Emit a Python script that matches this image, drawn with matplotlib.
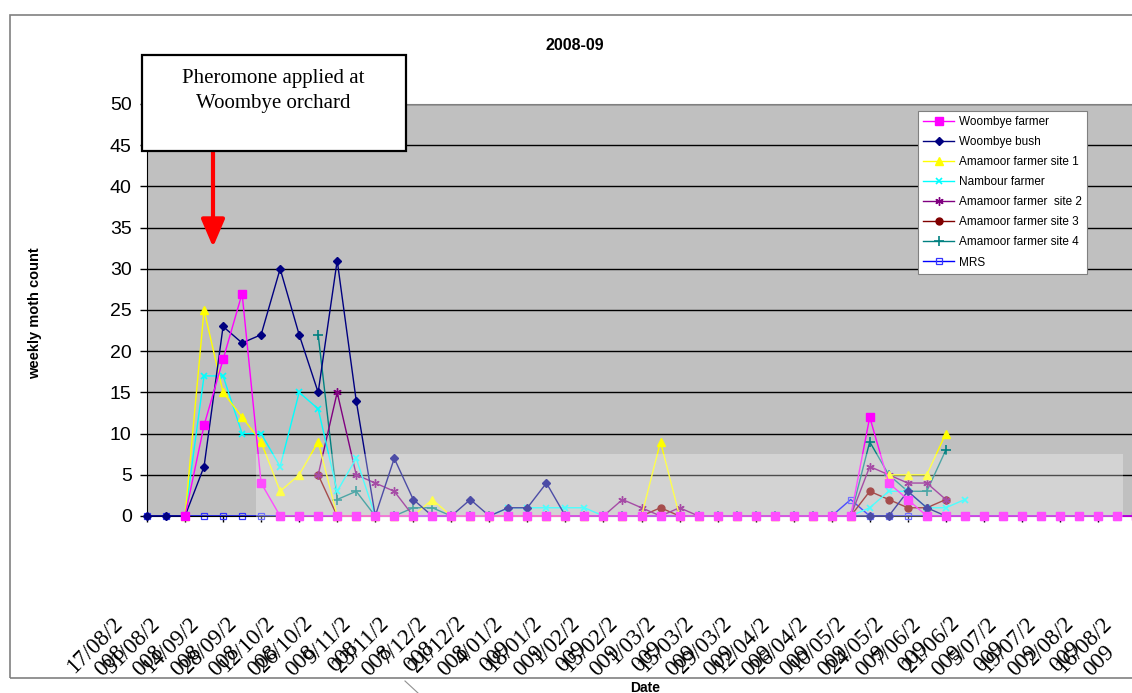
import numpy as np
import matplotlib
matplotlib.use("Agg")
import matplotlib.pyplot as plt
from matplotlib.patches import Rectangle
from matplotlib.lines import Line2D
from matplotlib.transforms import ScaledTranslation, blended_transform_factory

nan = np.nan

# ---------------- data ----------------
tick_labels = ["17/08/2008", "31/08/2008", "14/09/2008", "28/09/2008", "12/10/2008",
               "26/10/2008", "9/11/2008", "23/11/2008", "7/12/2008", "21/12/2008",
               "4/01/2009", "18/01/2009", "1/02/2009", "15/02/2009", "1/03/2009",
               "15/03/2009", "29/03/2009", "12/04/2009", "26/04/2009", "10/05/2009",
               "24/05/2009", "7/06/2009", "21/06/2009", "5/07/2009", "19/07/2009",
               "2/08/2009", "16/08/2009"]

woombye_farmer = [nan, nan, 0, 11, 19, 27, 4, 0, 0, 0,
                  0, 0, 0, 0, 0, 0, 0, 0, 0, 0,
                  0, 0, 0, 0, 0, 0, 0, 0, 0, 0,
                  0, 0, 0, 0, 0, 0, 0, 0, 12, 4,
                  2, 0, 0, 0, 0, 0, 0, 0, 0, 0,
                  0, 0, 0]
woombye_bush = [0, 0, 0, 6, 23, 21, 22, 30, 22, 15,
                31, 14, 0, 7, 2, 0, 0, 2, 0, 1,
                1, 4, 0, 0, 0, 0, 0, 0, 0, 0,
                0, 0, 0, 0, 0, 0, 0, 0, 0, 0,
                3, 1, 0, 0, 0, 0, 0, 0, 0, 0,
                0, 0, 0]
amamoor_site1 = [nan, nan, 0, 25, 15, 12, 9, 3, 5, 9,
                 0, 0, 0, 0, 0, 2, 0, 0, 0, 0,
                 0, 0, 0, 0, 0, 0, 0, 9, 0, 0,
                 0, 0, 0, 0, 0, 0, 0, 0, nan, 5,
                 5, 5, 10, nan, nan, nan, nan, nan, nan, nan,
                 nan, nan, nan]
nambour_farmer = [nan, nan, 0, 17, 17, 10, 10, 6, 15, 13,
                  3, 7, 0, 0, 0, 0, 0, 0, 0, 1,
                  1, 1, 1, 1, 0, 0, 0, 0, 0, 0,
                  0, 0, 0, 0, 0, 0, 0, 0, 1, 3,
                  3, 1, 1, 2, nan, nan, nan, nan, nan, nan,
                  nan, nan, nan]
amamoor_site2 = [nan, nan, nan, nan, nan, nan, nan, nan, nan, 5,
                 15, 5, 4, 3, 0, 0, 0, 0, 0, 0,
                 0, 0, 0, 0, 0, 2, 1, 0, 1, 0,
                 0, 0, 0, 0, 0, 0, 0, 0, 6, 5,
                 4, 4, 2, nan, nan, nan, nan, nan, nan, nan,
                 nan, nan, nan]
amamoor_site3 = [nan, nan, nan, nan, nan, nan, nan, nan, nan, 5,
                 0, 0, 0, 0, 0, 0, 0, 0, 0, 0,
                 0, 0, 0, 0, 0, 0, 0, 1, 0, 0,
                 0, 0, 0, 0, 0, 0, 0, 0, 3, 2,
                 1, 1, 2, nan, nan, nan, nan, nan, nan, nan,
                 nan, nan, nan]
amamoor_site4 = [nan, nan, nan, nan, nan, nan, nan, nan, nan, 22,
                 2, 3, 0, 0, 1, 1, 0, 0, 0, 0,
                 0, 0, 0, 0, 0, 0, 0, 0, 0, 0,
                 0, 0, 0, 0, 0, 0, 0, 0, 9, 5,
                 3, 3, 8, nan, nan, nan, nan, nan, nan, nan,
                 nan, nan, nan]
mrs = [0, 0, 0, 0, 0, 0, 0, 0, 0, 0,
       0, 0, 0, 0, 0, 0, 0, 0, 0, 0,
       0, 0, 0, 0, 0, 0, 0, 0, 0, 0,
       0, 0, 0, 0, 0, 0, 0, 2, 0, 0,
       0, 0, 0, 0, 0, 0, 0, 0, 0, 0,
       0, 0, 0]

# ---------------- figure ----------------
W, H = 1132, 693
fig = plt.figure(figsize=(W / 100, H / 100), dpi=100)
fig.patch.set_facecolor("white")


def fx(px):
    return px / W


def fy(py):
    return 1 - py / H


ax_left, ax_right, ax_top, ax_bot = 147, 1136, 104, 516
ax = fig.add_axes([fx(ax_left), fy(ax_bot), fx(ax_right - ax_left), (ax_bot - ax_top) / H])
ax.set_facecolor("#C0C0C0")

x = np.arange(len(woombye_farmer))

series = [
    ("Woombye farmer", woombye_farmer, dict(color="#FF00FF", marker="s", ms=5.2, mec="#FF00FF", mfc="#FF00FF"), 9),
    ("Woombye bush", woombye_bush, dict(color="#000080", marker="D", ms=4.3, mec="#000080", mfc="#000080"), 8),
    ("Amamoor farmer site 1", amamoor_site1, dict(color="#FFFF00", marker="^", ms=6, mec="#FFFF00", mfc="#FFFF00"), 7),
    ("Nambour farmer", nambour_farmer, dict(color="#00FFFF", marker="x", ms=5, mew=1.2), 6),
    ("Amamoor farmer  site 2", amamoor_site2, dict(color="#800080", marker=(6, 2, 0), ms=6, mew=1.0), 5),
    ("Amamoor farmer site 3", amamoor_site3, dict(color="#800000", marker="o", ms=5, mec="#800000", mfc="#800000"), 4),
    ("Amamoor farmer site 4", amamoor_site4, dict(color="#008080", marker="+", ms=7, mew=1.2), 3),
    ("MRS", mrs, dict(color="#0000FF", marker="s", ms=4.5, mfc="none", mec="#3333FF", mew=0.9), 2),
]

handles = []
for name, vals, style, z in series:
    (h,) = ax.plot(x, np.array(vals, dtype=float), lw=1.0, label=name, zorder=z, clip_on=False, **style)
    handles.append(h)

ax.set_xlim(0, 52)
ax.set_ylim(0, 50)
ax.set_yticks(np.arange(0, 51, 5))
ax.yaxis.grid(True, color="black", lw=1.0)
ax.set_axisbelow(True)
ax.tick_params(axis="y", direction="out", length=5, width=1, pad=6, labelsize=14, colors="black")
for t in ax.get_yticklabels():
    t.set_fontfamily("Liberation Sans")

xt = np.arange(0, 53, 2)
ax.set_xticks(xt)
ax.set_xticklabels([])
ax.tick_params(axis="x", direction="out", length=4, width=1)

ax.spines["left"].set_color("black")
ax.spines["bottom"].set_color("black")
ax.spines["top"].set_color("#808080")
ax.spines["right"].set_visible(False)

# category labels (Excel-style wrapped, rotated)
trans = blended_transform_factory(ax.transData, ax.transAxes) + ScaledTranslation(-0.35, -0.97, fig.dpi_scale_trans)
for pos, lab in zip(xt, tick_labels):
    txt = lab[:-3] + "\n" + lab[-3:]
    ax.text(pos, 0, txt, transform=trans, rotation=45, rotation_mode="anchor",
            ha="right", va="top", multialignment="center", fontsize=16.5,
            family="Liberation Serif", color="black", clip_on=False, linespacing=1.1)

# titles
fig.text(fx(575), fy(45), "2008-09", ha="center", va="center", fontsize=11.5,
         fontweight="bold", family="Liberation Sans")
fig.text(fx(35), fy(313), "weekly moth count", ha="center", va="center", rotation=90,
         fontsize=10.5, fontweight="bold", family="Liberation Sans")
fig.text(fx(645), fy(688), "Date", ha="center", va="center", fontsize=10,
         fontweight="bold", family="Liberation Sans")

# legend
leg = fig.legend(handles=handles, loc="upper left", bbox_to_anchor=(fx(918), fy(111)),
                 frameon=True, fancybox=False, edgecolor="#808080",
                 framealpha=1, labelspacing=0.68, handlelength=2.6, handletextpad=0.4,
                 borderpad=0.45, borderaxespad=0, prop={"family": "Liberation Sans", "size": 8.5})
leg.get_frame().set_linewidth(0.8)

# faded band artefact
fig.add_artist(Rectangle((fx(256), fy(521)), fx(1123 - 256), (521 - 454) / H,
                         transform=fig.transFigure, facecolor="white", alpha=0.3,
                         edgecolor="none", zorder=5))

# annotation box and arrow
fig.add_artist(Rectangle((fx(142), fy(151)), fx(406 - 142), (151 - 55) / H,
                         transform=fig.transFigure, facecolor="white", edgecolor="black",
                         lw=1.6, zorder=6))
fig.text(fx(273), fy(91), "Pheromone applied at\nWoombye orchard", ha="center", va="center",
         fontsize=15, family="Liberation Serif", linespacing=1.45, zorder=7)
ax.annotate("", xy=(fx(213), fy(247)), xytext=(fx(213), fy(151)),
            xycoords="figure fraction", textcoords="figure fraction",
            arrowprops=dict(arrowstyle="-|>,head_width=0.45,head_length=1.05",
                            color="#FF0000", lw=3, mutation_scale=16, shrinkA=0, shrinkB=0),
            zorder=7)

# chart area border
fig.add_artist(Rectangle((fx(10), fy(678)), fx(1140 - 10), (678 - 15) / H,
                         transform=fig.transFigure, facecolor="none", edgecolor="#808080",
                         lw=1.2, zorder=1))
fig.add_artist(Line2D([fx(405), fx(418)], [fy(681), fy(693)], transform=fig.transFigure,
                      color="#909090", lw=0.8))

fig.savefig("out.png", dpi=100, facecolor="white")
